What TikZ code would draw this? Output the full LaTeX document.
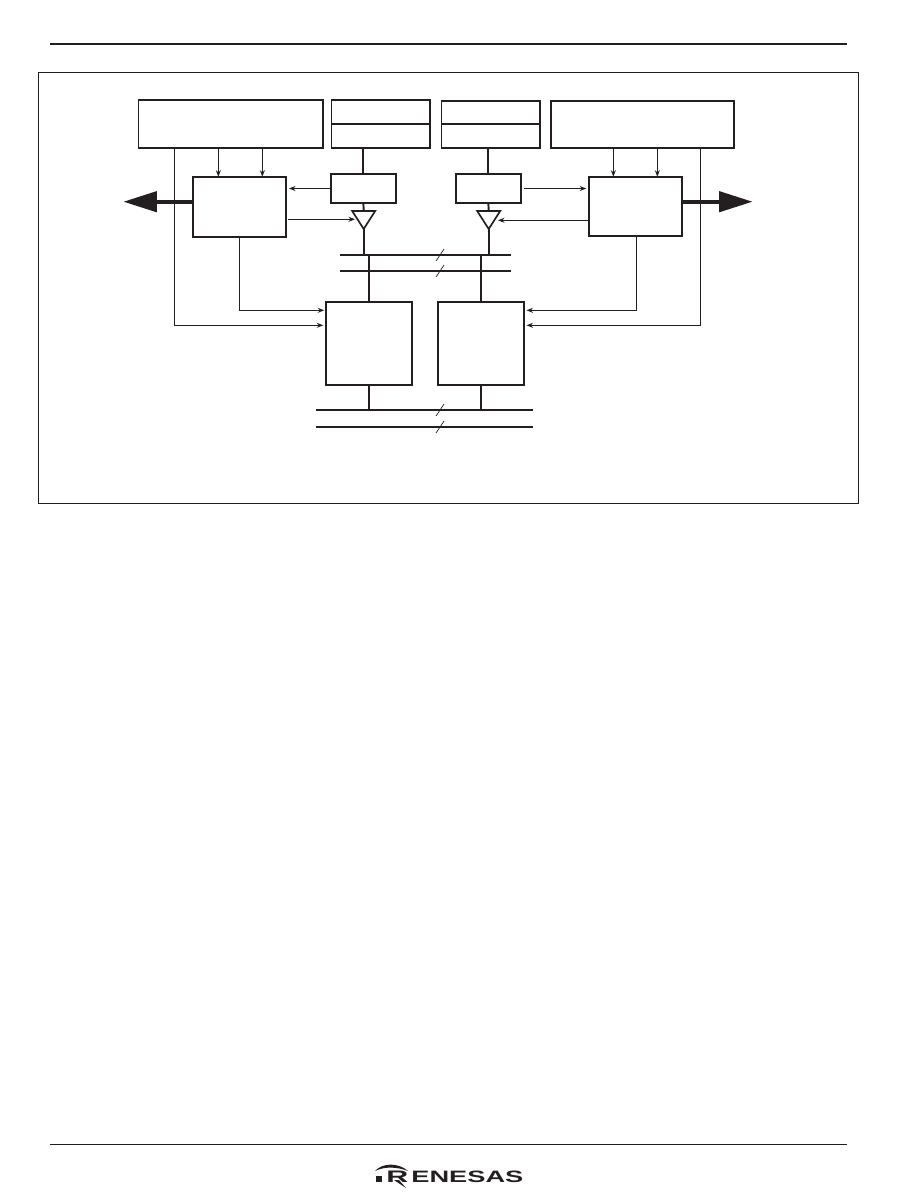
\documentclass[tikz,border=0pt]{standalone}
\usepackage{fontspec}
\usetikzlibrary{arrows.meta,shapes.geometric}
\newfontfamily\logofont{Liberation Sans}
\definecolor{ink}{HTML}{231F20}
\tikzset{
	blk/.style={draw=ink,line width=0.95pt,inner sep=0pt,outer sep=0pt,fill=white},
	drv/.style={blk,isosceles triangle,isosceles triangle stretches,shape border rotate=-90,minimum width=0.46cm,minimum height=0.36cm,anchor=apex},
	wire/.style={draw=ink,line width=1.1pt},
	sig/.style={draw=ink,line width=0.6pt},
	sigar/.style={sig,-{Stealth[length=0.13cm,width=0.1cm]}},
	bigar/.style={draw=ink,line width=2.4pt,-{Triangle[length=0.67cm,width=0.4cm]}},
	slash/.style={draw=ink,line width=0.4pt}
}
\begin{document}
\begin{tikzpicture}[x=0.02cm,y=-0.02cm]
	\useasboundingbox (0,0) rectangle (905,1204);
	\draw[ink,line width=1.1pt] (50,44) -- (847,44);
	\draw[ink,line width=0.5pt] (50,1144) -- (847,1144);
	\draw[ink,line width=0.5pt] (38,72) rectangle (858,503);
	% upper registers
	\node[blk,minimum width=3.69cm,minimum height=0.96cm] (cfgL) at (230.85,124) {};
	\node[blk,minimum width=1.97cm,minimum height=0.474cm] (regLa) at (380.85,111.85) {};
	\node[blk,minimum width=1.97cm,minimum height=0.486cm] (regLb) at (380.85,135.85) {};
	\node[blk,minimum width=1.97cm,minimum height=0.46cm] (regRa) at (490.85,112.2) {};
	\node[blk,minimum width=1.97cm,minimum height=0.486cm] (regRb) at (490.85,135.85) {};
	\node[blk,minimum width=3.67cm,minimum height=0.946cm] (cfgR) at (642.5,124.35) {};
	% control, latch and driver
	\node[blk,minimum width=1.866cm,minimum height=1.2cm] (ctlL) at (239.35,206.7) {};
	\node[blk,minimum width=1.866cm,minimum height=1.18cm] (ctlR) at (635.35,206.2) {};
	\node[blk,minimum width=1.306cm,minimum height=0.58cm] (latL) at (363.35,188.5) {};
	\node[blk,minimum width=1.306cm,minimum height=0.58cm] (latR) at (488.35,188.5) {};
	\node[drv] (drvL) at (363.7,229) {};
	\node[drv] (drvR) at (488.7,229) {};
	\node[blk,minimum width=1.726cm,minimum height=1.666cm] (memL) at (368.85,343.35) {};
	\node[blk,minimum width=1.726cm,minimum height=1.666cm] (memR) at (480.85,343.35) {};
	\coordinate (busAw) at (340,254.7);
	\coordinate (busAe) at (511,254.7);
	\coordinate (busBw) at (340,271);
	\coordinate (busBe) at (511,271);
	\coordinate (busCw) at (316,410);
	\coordinate (busCe) at (532.7,410);
	\coordinate (busDw) at (316,427);
	\coordinate (busDe) at (532.7,427);
	\coordinate (tipL) at (123.3,201.7);
	\coordinate (tipR) at (752.7,201.7);
	% buses
	\draw[wire] (busAw) -- (busAe);
	\draw[wire] (busBw) -- (busBe);
	\draw[wire] (busCw) -- (busCe);
	\draw[wire] (busDw) -- (busDe);
	\draw[slash] (436,261) -- (444,249);
	\draw[slash] (436,277) -- (444,265);
	\draw[slash] (436,416) -- (444,404);
	\draw[slash] (436,433) -- (444,421);
	\draw[wire] (latL.north) -- (latL.north |- regLb.south);
	\draw[wire] (latR.north) -- (latR.north |- regRb.south);
	\draw[wire] (latL.south) -- (drvL.lower side);
	\draw[wire] (latR.south) -- (drvR.lower side);
	\draw[wire] (drvL.apex) -- (drvL.apex |- busAw);
	\draw[wire] (drvR.apex) -- (drvR.apex |- busAw);
	\draw[wire] (memL.north) -- (memL.north |- busAw);
	\draw[wire] (memR.north) -- (memR.north |- busAw);
	\draw[wire] (memL.south) -- (memL.south |- busCw);
	\draw[wire] (memR.south) -- (memR.south |- busCw);
	% signals
	\draw[sigar] ([xshift=-0.42cm]ctlL.north |- cfgL.south) -- ([xshift=-0.42cm]ctlL.north);
	\draw[sigar] ([xshift=0.46cm]ctlL.north |- cfgL.south) -- ([xshift=0.46cm]ctlL.north);
	\draw[sigar] ([xshift=-0.44cm]ctlR.north |- cfgR.south) -- ([xshift=-0.44cm]ctlR.north);
	\draw[sigar] ([xshift=0.44cm]ctlR.north |- cfgR.south) -- ([xshift=0.44cm]ctlR.north);
	\draw[sigar] (latL.west) -- ([xshift=0.06cm]ctlL.east |- latL.west);
	\draw[sigar] ([xshift=0.06cm]latR.east) -- ([xshift=-0.05cm]ctlR.west |- latR.east);
	\draw[sigar] ([xshift=0.04cm]ctlL.east |- 0,219.3) -- ([xshift=-0.174cm]drvL.center |- 0,219.3);
	\draw[sigar] (ctlR.west |- 0,220.3) -- ([xshift=0.186cm]drvR.center |- 0,220.3);
	\draw[sigar] (ctlL.south) |- ([xshift=-0.03cm]memL.west |- 0,310.3);
	\draw[sigar] ([xshift=0.02cm]ctlR.south) |- ([xshift=0.05cm]memR.east |- 0,310.3);
	\draw[sigar] ([xshift=-1.13cm]cfgL.south) |- ([xshift=-0.05cm]memL.west |- 0,325.3);
	\draw[sigar] ([xshift=1.156cm]cfgR.south) |- ([xshift=0.05cm]memR.east |- 0,325.3);
	\draw[bigar] (ctlL.west |- tipL) -- (tipL);
	\draw[bigar] (ctlR.east |- tipR) -- (tipR);
	% logo
	\fill[ink] (376,1176) rectangle (382,1182);
	\fill[ink] (375,1171) .. controls (382,1163) and (398,1162) .. (408,1171) .. controls (398,1167) and (385,1166) .. (375,1171);
	\fill[ink] (394,1180) -- (399,1180) -- (406,1188) -- cycle;
	\node[anchor=base west,inner sep=0pt,text=ink] (logoL) at (386,1182) {\logofont\bfseries\resizebox{0.44cm}{0.23cm}{R}\hspace{0.06cm}\resizebox{2.24cm}{0.23cm}{ENESAS}};
\end{tikzpicture}
\end{document}
